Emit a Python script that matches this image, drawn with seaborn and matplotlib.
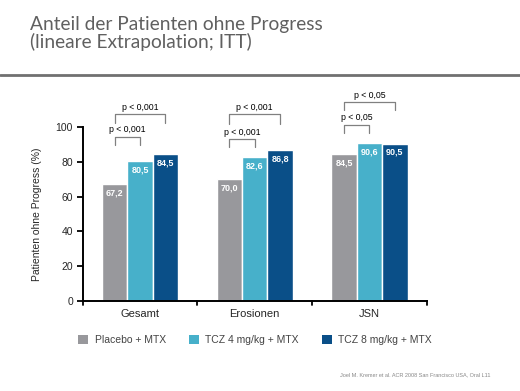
import matplotlib
matplotlib.use("Agg")
import matplotlib.pyplot as plt
from matplotlib.patches import Patch
import seaborn as sns
import pandas as pd

kategorien = ["Gesamt", "Erosionen", "JSN"]
gruppen = ["Placebo + MTX", "TCZ 4 mg/kg + MTX", "TCZ 8 mg/kg + MTX"]
placebo = [67.2, 70.0, 84.5]
tcz4 = [80.5, 82.6, 90.6]
tcz8 = [84.5, 86.8, 90.5]
p_innen = ["p < 0,001", "p < 0,001", "p < 0,05"]
p_aussen = ["p < 0,001", "p < 0,001", "p < 0,05"]

farben = ["#98989c", "#47b0ca", "#0a4f88"]

rows = []
for i, k in enumerate(kategorien):
    for g, werte in zip(gruppen, [placebo, tcz4, tcz8]):
        rows.append({"kat": k, "gruppe": g, "wert": werte[i]})
df = pd.DataFrame(rows)

sns.set_style("white")
plt.rcParams["font.family"] = ["Liberation Sans", "DejaVu Sans"]

fig = plt.figure(figsize=(5.2, 3.91), dpi=100)
ax = fig.add_axes([0.159, 0.2302, 0.6616, 0.4450])

sns.barplot(data=df, x="kat", y="wert", hue="gruppe", palette=farben,
            width=0.665, saturation=1, ax=ax, legend=False)

ax.set_xlim(-0.5, 2.5)
ax.set_ylim(0, 100)
ax.set_yticks([0, 20, 40, 60, 80, 100])
ax.set_yticklabels(["0", "20", "40", "60", "80", "100"], fontsize=7.5)
ax.set_xticks([0, 1, 2])
ax.set_xticklabels(kategorien, fontsize=8)
ax.tick_params(axis="x", length=0, pad=6)
ax.tick_params(axis="y", length=4, width=1.3, color="black", left=True, pad=3)
for xb in [-0.5, 0.5, 1.5, 2.5]:
    ax.plot([xb, xb], [0, -2.5], color="black", lw=1.3, clip_on=False)
sns.despine(ax=ax)
ax.spines["left"].set_linewidth(1.4)
ax.spines["bottom"].set_linewidth(1.4)
ax.spines["left"].set_color("black")
ax.spines["bottom"].set_color("black")
ax.set_xlabel("")
ax.set_ylabel("Patienten ohne Progress (%)", fontsize=7.5, labelpad=10)

# Werte in den Balken
for cont in ax.containers:
    for bar in cont:
        h = bar.get_height()
        ax.text(bar.get_x() + bar.get_width() / 2, h - 5, f"{h:.1f}".replace(".", ","),
                ha="center", va="center", color="white", fontsize=6.5, fontweight="bold")

# Klammern mit p-Werten
innen_oben = [94.4, 92.9, 101.1]
innen_unten = [89.7, 88.3, 96.6]
aussen_oben = [107.3, 107.3, 114.2]
aussen_unten = [102.3, 102.0, 109.8]
for i in range(3):
    x0 = ax.containers[0][i].get_x() + ax.containers[0][i].get_width() / 2
    x1 = ax.containers[1][i].get_x() + ax.containers[1][i].get_width() / 2
    x2 = ax.containers[2][i].get_x() + ax.containers[2][i].get_width() / 2
    ax.plot([x0, x0, x1, x1], [innen_unten[i], innen_oben[i], innen_oben[i], innen_unten[i]],
            color="#808080", lw=0.9, clip_on=False)
    ax.text((x0 + x1) / 2, innen_oben[i] + 1.5, p_innen[i], ha="center", va="bottom",
            fontsize=6.3, color="black")
    ax.plot([x0, x0, x2, x2], [aussen_unten[i], aussen_oben[i], aussen_oben[i], aussen_unten[i]],
            color="#808080", lw=0.9, clip_on=False)
    ax.text((x0 + x2) / 2, aussen_oben[i] + 1.5, p_aussen[i], ha="center", va="bottom",
            fontsize=6.3, color="black")

# Titel und Linie
fig.text(30 / 520, 1 - 16 / 391, "Anteil der Patienten ohne Progress\n(lineare Extrapolation; ITT)",
         ha="left", va="top", fontsize=13.8, color="#606060", family=["Lato", "DejaVu Sans"],
         linespacing=1.0)
fig.add_artist(plt.Line2D([0, 1], [1 - 75 / 391, 1 - 75 / 391], color="#707070", lw=2))

# Legende
handles = [Patch(facecolor=c, edgecolor="none") for c in farben]
fig.legend(handles, gruppen, loc="center", bbox_to_anchor=(255 / 520, 1 - 340 / 391),
           ncol=3, frameon=False, fontsize=7.5, handlelength=1.0, handleheight=1.0,
           columnspacing=2.2, handletextpad=0.6, labelcolor="#444444")

fig.text(490 / 520, 1 - 375 / 391, "Joel M. Kremer et al. ACR 2008 San Francisco USA, Oral L11",
         ha="right", va="center", fontsize=4, color="#888888")

fig.savefig("out.png", dpi=100)
